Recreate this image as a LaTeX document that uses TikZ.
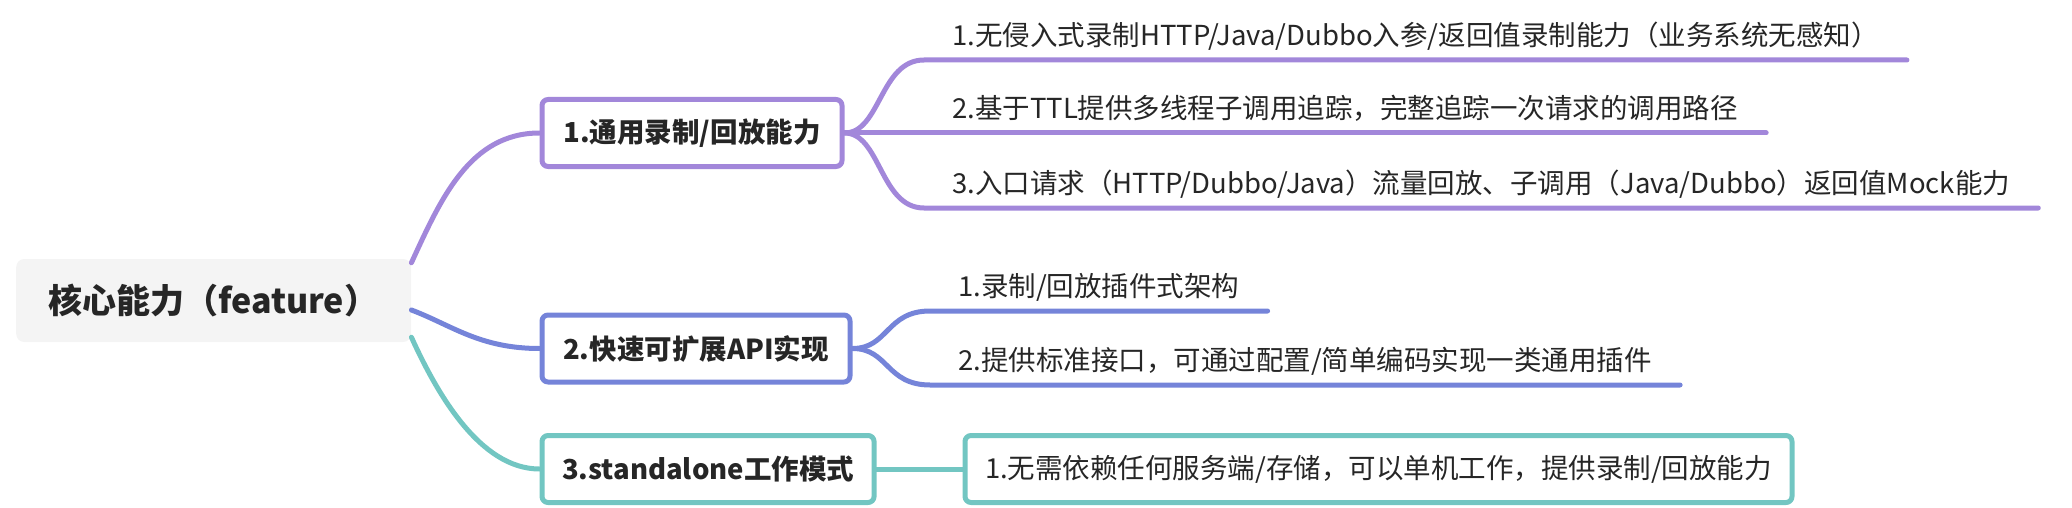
\documentclass[tikz,border=0pt]{standalone}
\usepackage{fontspec}
\setmainfont{Noto Sans CJK SC}
\definecolor{lilac}{HTML}{A287DA}
\definecolor{cobalt}{HTML}{7584D9}
\definecolor{aqua}{HTML}{72C6C2}
\definecolor{rootgray}{HTML}{F4F4F4}
\definecolor{ink}{HTML}{262626}
\tikzset{
	root/.style={fill=rootgray,rounded corners=8pt,text=ink,font=\fontsize{34}{40}\selectfont\bfseries,
		anchor=west,inner xsep=32pt,text width=331pt,align=left,minimum height=83pt},
	topic/.style={draw,line width=5pt,rounded corners=6pt,fill=white,text=ink,
		font=\fontsize{27.5}{32}\selectfont\bfseries,anchor=west,inner xsep=20pt,minimum height=67pt},
	leaf/.style={text=ink,font=\fontsize{27.5}{32}\selectfont,anchor=south west,
		inner xsep=28pt,inner ysep=8pt,text height=22pt,text depth=6pt},
	link/.style={line width=5pt,line cap=round}
}
\begin{document}
\begin{tikzpicture}[x=1pt,y=-1pt,line join=round]
	\useasboundingbox (0,0) rectangle (2072,508);
	\path (16,300.5) node[root] (core) {核心能力（feature）};
	\foreach \n/\y/\w/\c/\g in {b1/133/300/lilac/{1.通用录制/回放能力},b2/348.5/308/cobalt/{2.快速可扩展API实现},b3/469/326/aqua/{3.standalone工作模式}}
		\path (539.5,\y) node[topic,draw=\c,minimum width=\w pt] (\n) {\g};
	\foreach \n/\x/\y/\g in {l11/924/60/{1.无侵入式录制HTTP/Java/Dubbo入参/返回值录制能力（业务系统无感知）},
		l12/924/133/{2.基于TTL提供多线程子调用追踪，完整追踪一次请求的调用路径},
		l13/924/208/{3.入口请求（HTTP/Dubbo/Java）流量回放、子调用（Java/Dubbo）返回值Mock能力},
		l21/930/311/{1.录制/回放插件式架构},
		l22/930/385/{2.提供标准接口，可通过配置/简单编码实现一类通用插件}}
		\path (\x,\y) node[leaf] (\n) {\g};
	\path (962.5,469) node[topic,draw=aqua,font=\fontsize{27.5}{32}\selectfont,minimum width=827pt,inner xsep=14pt] (l31) {1.无需依赖任何服务端/存储，可以单机工作，提供录制/回放能力};
	% root to topics
	\draw[link,lilac] ([yshift=-4pt]core.north east) .. controls +(29,-63) and +(-70,0) .. (b1.west);
	\draw[link,cobalt] ([yshift=-9.5pt]core.east) .. controls +(40,15) and +(-60,0) .. (b2.west);
	\draw[link,aqua] ([yshift=5pt]core.south east) .. controls +(25,55) and +(-60,0) .. (b3.west);
	% topics to leaves
	\foreach \n in {l11,l13}
		\draw[link,lilac] (b1.east) .. controls +(36,0) and +(-44,0) .. (\n.south west) -- (\n.south east);
	\draw[link,lilac] (b1.east) -- (l12.south west) -- (l12.south east);
	\foreach \n in {l21,l22}
		\draw[link,cobalt] (b2.east) .. controls +(36,0) and +(-44,0) .. (\n.south west) -- (\n.south east);
	\draw[link,aqua] (b3.east) -- (l31.west);
\end{tikzpicture}
\end{document}
